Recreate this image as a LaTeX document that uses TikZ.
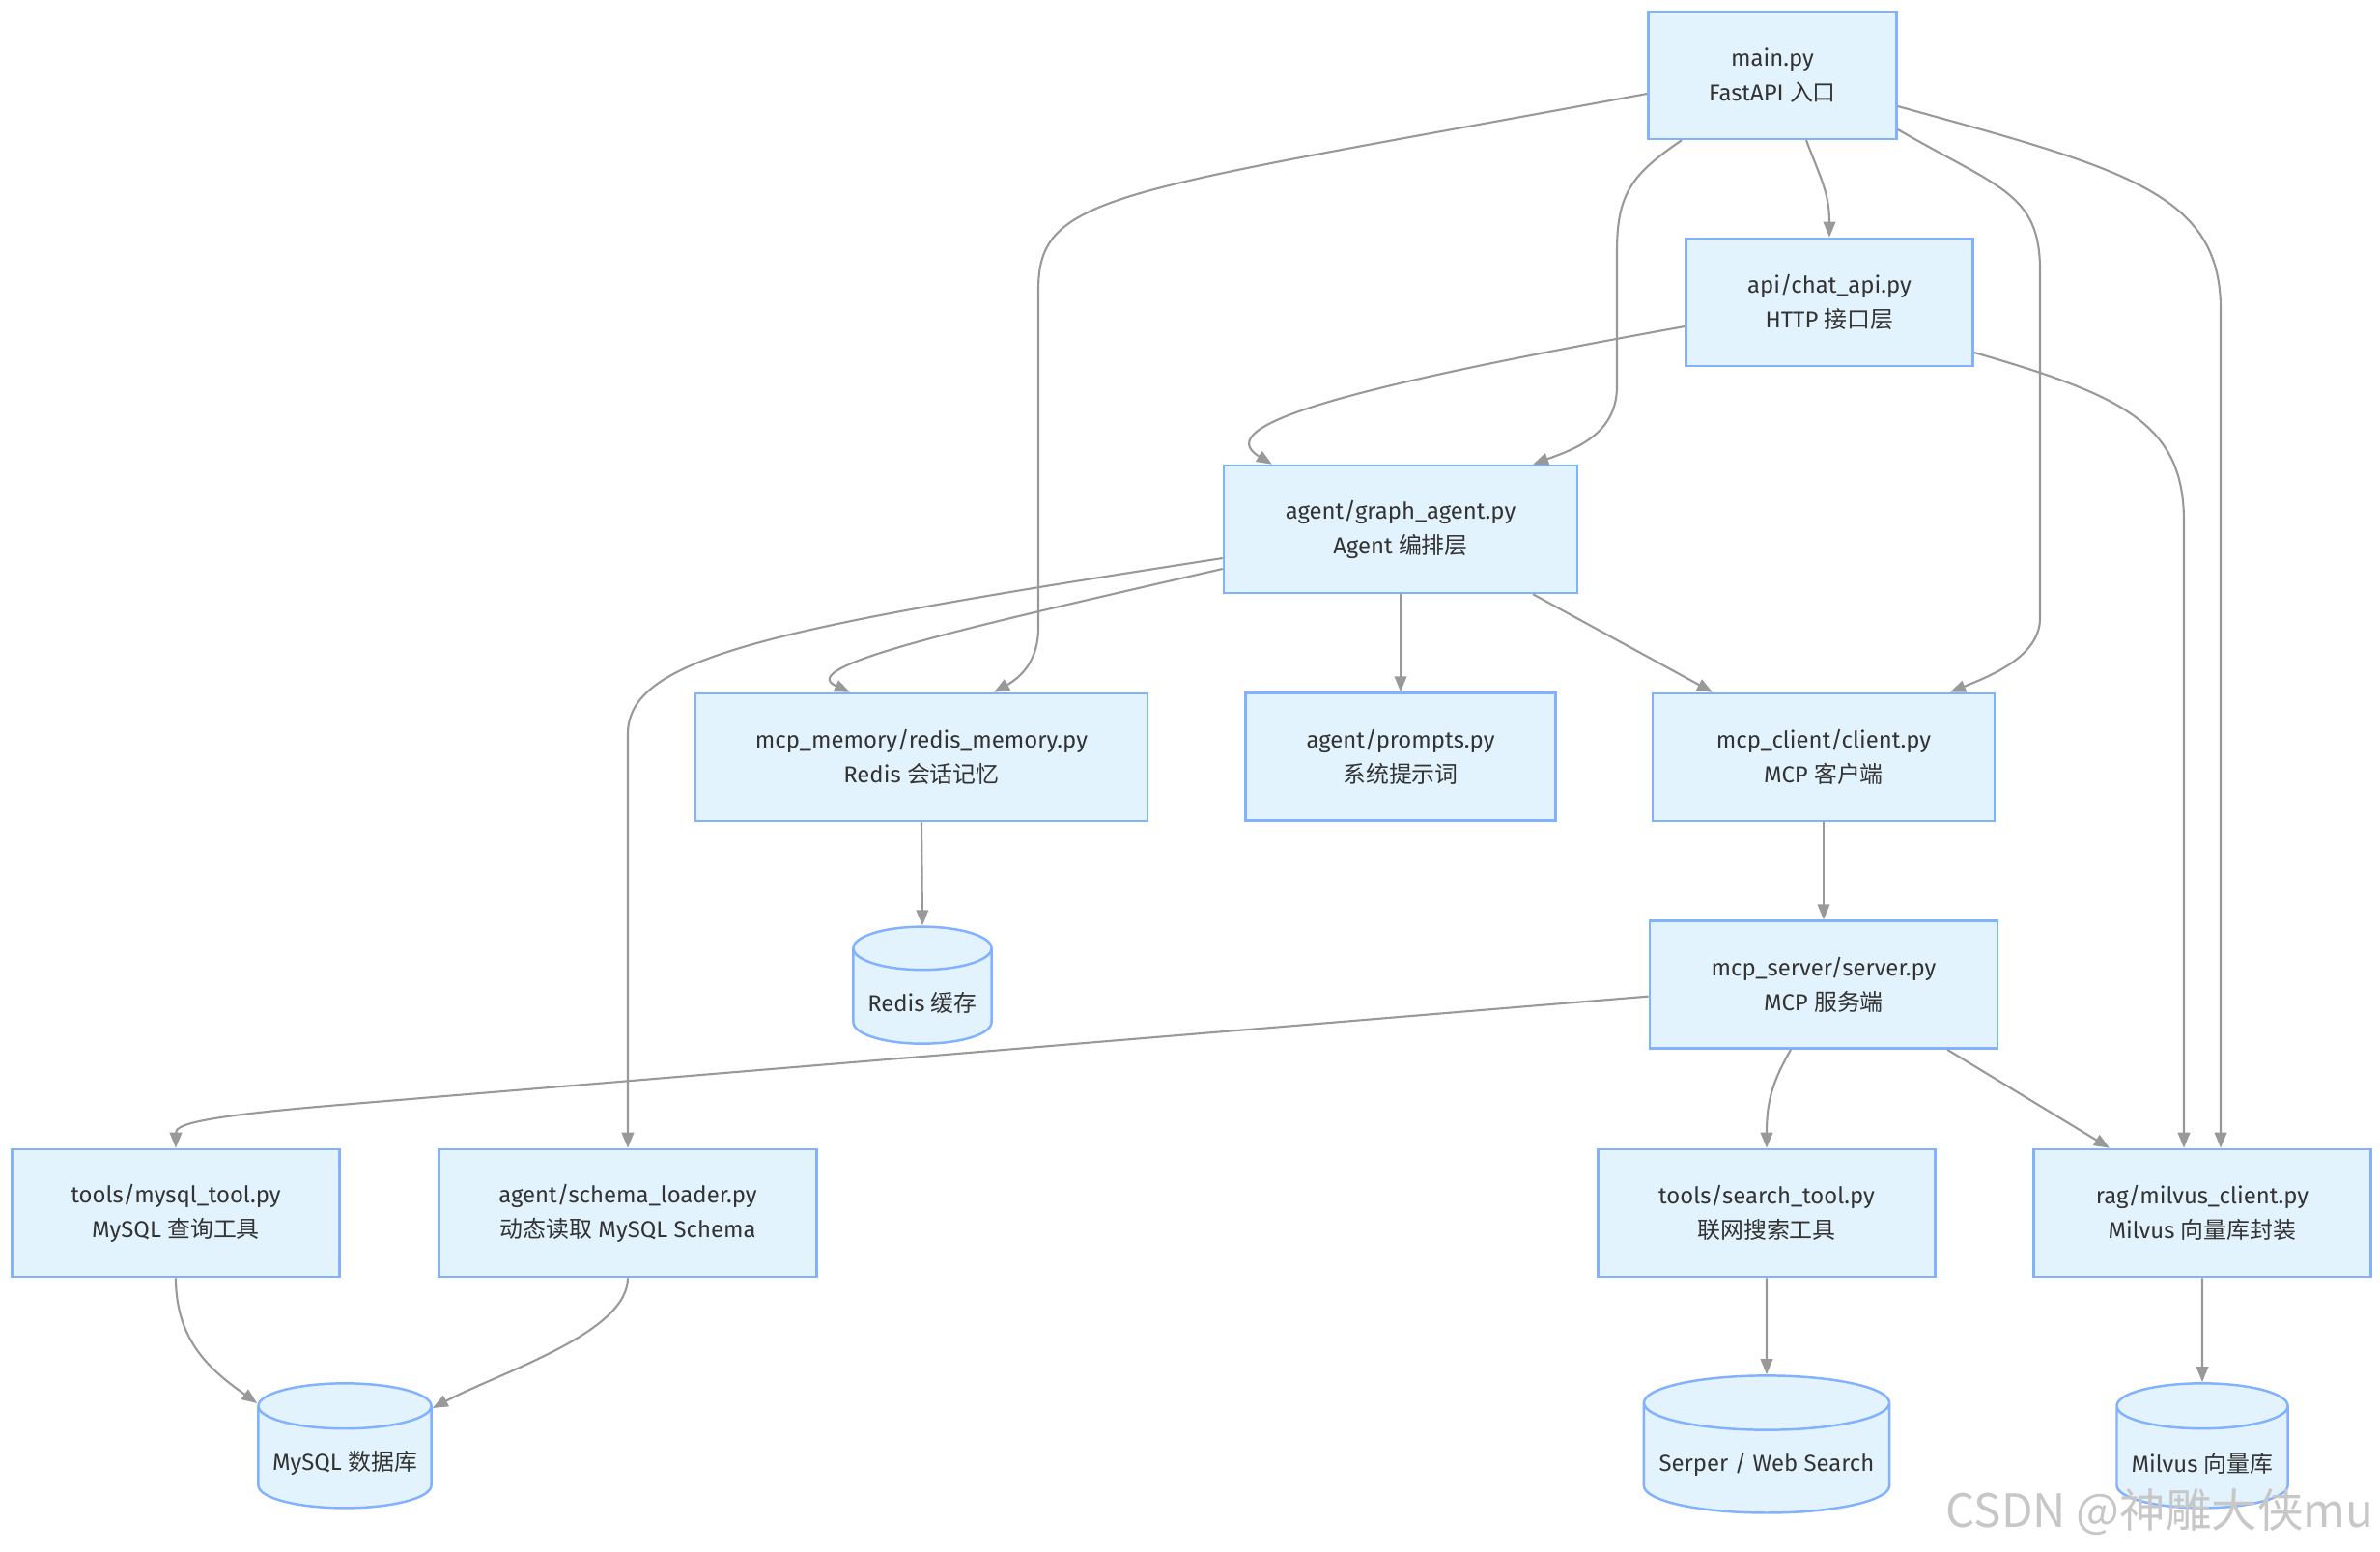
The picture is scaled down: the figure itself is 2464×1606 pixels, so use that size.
\documentclass[tikz,border=0pt]{standalone}
\usepackage{fontspec}
\setmainfont{Fira Sans}
\newfontfamily\cjk{Noto Sans CJK SC}
\usepackage{xcolor}
\usetikzlibrary{arrows.meta,positioning,shapes.geometric}
\definecolor{boxblue}{RGB}{130,177,255}
\definecolor{boxfill}{RGB}{227,243,253}
\definecolor{txtgray}{RGB}{51,51,51}
\definecolor{edgegray}{RGB}{153,153,153}
\tikzset{
	block/.style={
		rectangle,
		draw=boxblue,
		fill=boxfill,
		line width=0.7pt,
		align=center,
		text=txtgray,
		font=\fontsize{6.8}{10.2}\selectfont,
		minimum height=13.2mm,
		inner sep=0pt
	},
	store/.style={
		cylinder,
		shape border rotate=90,
		draw=boxblue,
		fill=boxfill,
		line width=0.7pt
	},
	line/.style={-{Triangle[length=1.6mm,width=1.25mm]},draw=edgegray,line width=0.6pt}
}

\begin{document}
\begin{tikzpicture}[x=0.01cm,y=-0.01cm,node distance=10.1mm and 10mm,
			storelbl/.style={text=txtgray,font=\fontsize{6.8}{10.2}\selectfont}]
		\useasboundingbox (0,0) rectangle (2464,1606);
		\node[block,minimum width=25.7mm] (main) at (1835,78) {main.py\\FastAPI {\cjk 入口}};
		\node[block,minimum width=29.7mm] (chat) at (1894,313) {api/chat\_api.py\\HTTP {\cjk 接口层}};
		\node[block,minimum width=36.6mm] (graph) at (1450,548) {agent/graph\_agent.py\\Agent {\cjk 编排层}};
		\node[block,minimum width=32.1mm,below=of graph] (prompts) {agent/prompts.py\\{\cjk 系统提示词}};
		\node[block,minimum width=46.8mm] (memory) at (954,784) {mcp\_memory/redis\_memory.py\\Redis {\cjk 会话记忆}};
		\node[block,minimum width=35.4mm] (client) at (1888,784) {mcp\_client/client.py\\MCP {\cjk 客户端}};
		\node[block,minimum width=36mm,below=of client] (server) {mcp\_server/server.py\\MCP {\cjk 服务端}};
		\node[block,minimum width=33.9mm] (mysqltool) at (182,1256) {tools/mysql\_tool.py\\MySQL {\cjk 查询工具}};
		\node[block,minimum width=39.1mm] (schema) at (650,1256) {agent/schema\_loader.py\\{\cjk 动态读取} MySQL Schema};
		\node[block,minimum width=34.9mm] (search) at (1829,1256) {tools/search\_tool.py\\{\cjk 联网搜索工具}};
		\node[block,minimum width=34.9mm] (milvus) at (2280,1256) {rag/milvus\_client.py\\Milvus {\cjk 向量库封装}};

		\node[store,aspect=1.9,minimum width=14.3mm,minimum height=12.1mm] (redis) at (955,1038) {};
		\node[store,aspect=2,minimum width=17.9mm,minimum height=12.9mm] (mysql) at (357,1515) {};
		\node[store,aspect=2.4,minimum width=25.4mm,minimum height=14.2mm] (serper) at (1829,1516) {};
		\node[store,aspect=2,minimum width=17.7mm,minimum height=12.9mm] (milvusdb) at (2280,1515) {};
		\node[storelbl] (redislbl) at (redis.center) {Redis {\cjk 缓存}};
		\node[storelbl] (mysqllbl) at (mysql.center) {MySQL {\cjk 数据库}};
		\node[storelbl] (serperlbl) at (serper.center) {Serper / Web Search};
		\node[storelbl] (milvuslbl) at (milvusdb.center) {Milvus {\cjk 向量库}};

		\draw[line] ([xshift=3.5mm]main.south) .. controls (1885,185) and (1894,200) .. (chat.north);
		\draw[line] ([xshift=-9.4mm]main.south) .. controls (1690,180) and (1674,200) .. (1674,260) -- (1674,400) .. controls (1674,450) and (1630,465) .. ([xshift=13.7mm]graph.north);
		\draw[line] ([yshift=-1.9mm]main.west) .. controls (1150,200) and (1075,200) .. (1075,300) -- (1075,650) .. controls (1075,690) and (1050,705) .. ([xshift=7.5mm]memory.north);
		\draw[line] ([yshift=-5.6mm]main.east) .. controls (2070,195) and (2112,200) .. (2112,280) -- (2112,640) .. controls (2112,680) and (2060,700) .. ([xshift=13.1mm]client.north);
		\draw[line] ([yshift=-3.2mm]main.east) .. controls (2200,175) and (2299,200) .. (2299,320) -- ([xshift=1.9mm]milvus.north);
		\draw[line] ([yshift=-2.5mm]chat.west) .. controls (1400,400) and (1250,440) .. ([xshift=-13.3mm]graph.north);
		\draw[line] ([yshift=-5.2mm]chat.east) .. controls (2200,410) and (2261,440) .. (2261,540) -- ([xshift=-1.9mm]milvus.north);
		\draw[line] ([yshift=-4.1mm]graph.west) .. controls (1000,650) and (820,690) .. ([xshift=-7.4mm]memory.north);
		\draw[line] ([yshift=-3mm]graph.west) .. controls (800,650) and (650,680) .. (650,760) -- (schema.north);
		\draw[line] (graph.south) -- (prompts.north);
		\draw[line] ([xshift=13.7mm]graph.south) -- ([xshift=-11.5mm]client.north);
		\draw[line] (memory.south) -- (redis.north);
		\draw[line] (client.south) -- (server.north);
		\draw[line] ([yshift=-1.2mm]server.west) -- (340,1145) .. controls (200,1157) and (182,1165) .. (mysqltool.north);
		\draw[line] ([xshift=-3.4mm]server.south) .. controls (1835,1120) and (1829,1140) .. (search.north);
		\draw[line] ([xshift=12.8mm]server.south) -- ([xshift=-9.6mm]milvus.north);
		\draw[line] (mysqltool.south) .. controls (182,1390) and (220,1420) .. ([yshift=6.2mm]mysql.west);
		\draw[line] (schema.south) .. controls (650,1380) and (520,1420) .. ([yshift=5.7mm]mysql.east);
		\draw[line] (search.south) -- (serper.north);
		\draw[line] (milvus.south) -- (milvusdb.north);

		\node[text=black!22,font=\cjk\fontsize{13.5}{16}\selectfont] (mark) at (2236,1566) {CSDN @神雕大侠mu};
	\end{tikzpicture}
\end{document}
